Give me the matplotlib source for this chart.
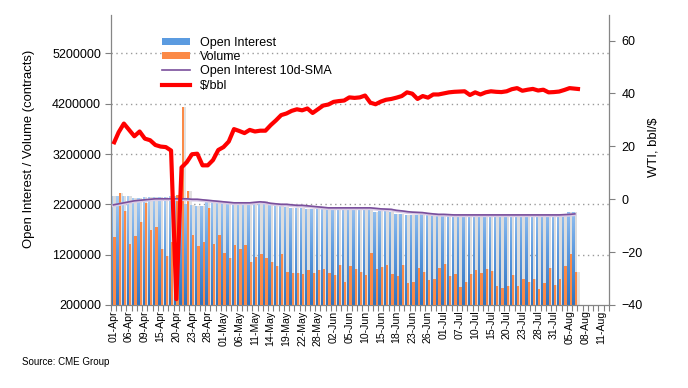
import matplotlib
matplotlib.use('Agg')
import matplotlib.pyplot as plt
import numpy as np
from matplotlib.path import Path
from matplotlib.patches import PathPatch, Patch
from matplotlib.lines import Line2D
from matplotlib.colors import LinearSegmentedColormap

plt.rcParams['font.family'] = ['Liberation Sans', 'DejaVu Sans']

# ---------------- data ----------------
tick_labels = ['01-Apr', '06-Apr', '09-Apr', '15-Apr', '20-Apr', '23-Apr', '28-Apr',
               '01-May', '06-May', '11-May', '14-May', '19-May', '22-May', '28-May',
               '02-Jun', '05-Jun', '10-Jun', '15-Jun', '18-Jun', '23-Jun', '26-Jun',
               '01-Jul', '07-Jul', '10-Jul', '15-Jul', '20-Jul', '23-Jul', '28-Jul',
               '31-Jul', '05-Aug', '08-Aug', '11-Aug']
n_slots = 95

open_interest = [2.36, 2.36, 2.36, 2.36, 2.32, 2.32, 2.34, 2.34, 2.34, 2.34,
                 2.34, 2.36, 2.36, 2.36, 2.20, 2.18, 2.17, 2.17, 2.24, 2.26,
                 2.26, 2.24, 2.22, 2.20, 2.20, 2.20, 2.20, 2.25, 2.23, 2.26,
                 2.20, 2.20, 2.18, 2.15, 2.13, 2.13, 2.13, 2.11, 2.11, 2.13,
                 2.11, 2.15, 2.11, 2.11, 2.11, 2.11, 2.11, 2.11, 2.11, 2.11,
                 2.05, 2.07, 2.07, 2.045, 2.00, 2.00, 1.99, 1.99, 1.99, 2.00,
                 2.00, 1.99, 1.99, 1.97, 1.97, 1.95, 1.95, 1.95, 1.95, 1.95,
                 1.95, 2.00, 2.00, 1.95, 1.95, 1.95, 1.95, 1.95, 1.95, 1.95,
                 1.95, 1.95, 1.99, 1.99, 1.99, 1.99, 2.00, 2.045, 2.045]
open_interest = [v * 1e6 for v in open_interest]

volume = [1.55, 2.42, 2.07, 1.42, 1.57, 1.85, 2.22, 1.69, 1.75, 1.31,
          1.17, 1.45, 2.38, 4.13, 2.47, 1.59, 1.37, 1.45, 2.13, 1.42,
          1.59, 1.23, 1.13, 1.39, 1.31, 1.39, 1.05, 1.15, 1.21, 1.13,
          1.05, 0.97, 1.21, 0.85, 0.83, 0.83, 0.815, 0.89, 0.83, 0.89,
          0.91, 0.83, 0.795, 0.99, 0.66, 0.97, 0.91, 0.85, 0.795, 1.23,
          0.91, 0.95, 0.99, 0.815, 0.775, 0.99, 0.64, 0.66, 0.93, 0.85,
          0.70, 0.72, 0.93, 1.01, 0.775, 0.815, 0.56, 0.66, 0.815, 0.89,
          0.83, 0.91, 0.875, 0.58, 0.54, 0.58, 0.795, 0.58, 0.72, 0.66,
          0.72, 0.52, 0.64, 0.93, 0.60, 0.72, 0.97, 1.21, 0.85]
volume = [v * 1e6 for v in volume]

oi_sma = [2.19, 2.21, 2.23, 2.25, 2.27, 2.28, 2.29, 2.30, 2.31, 2.31,
          2.31, 2.31, 2.31, 2.31, 2.31, 2.30, 2.30, 2.29, 2.28, 2.27,
          2.26, 2.25, 2.24, 2.23, 2.23, 2.23, 2.23, 2.24, 2.25, 2.24,
          2.22, 2.21, 2.20, 2.20, 2.19, 2.18, 2.18, 2.17, 2.16, 2.15,
          2.14, 2.13, 2.13, 2.13, 2.13, 2.13, 2.13, 2.13, 2.13, 2.13,
          2.12, 2.11, 2.105, 2.10, 2.08, 2.07, 2.055, 2.045, 2.04, 2.035,
          2.02, 2.01, 2.00, 2.00, 1.995, 1.99, 1.99, 1.99, 1.99, 1.99,
          1.99, 1.99, 1.99, 1.99, 1.99, 1.99, 1.99, 1.99, 1.99, 1.99,
          1.99, 1.99, 1.99, 1.99, 1.99, 1.99, 1.995, 2.00, 2.01]
oi_sma = [v * 1e6 for v in oi_sma]

wti = [20.8, 25.3, 28.6, 26.2, 23.8, 25.6, 22.9, 22.3, 20.5, 19.9,
       19.7, 18.4, -37.8, 12.0, 14.0, 17.0, 17.2, 12.8, 12.8, 14.8,
       18.6, 19.7, 21.8, 26.5, 25.8, 25.0, 26.2, 25.6, 25.9, 25.9,
       28.0, 29.8, 31.8, 32.4, 33.4, 34.0, 33.6, 34.3, 32.6, 34.0,
       35.4, 35.8, 36.8, 37.1, 37.3, 38.5, 38.3, 38.5, 39.2, 36.5,
       35.9, 36.9, 37.6, 37.9, 38.4, 39.0, 40.4, 39.9, 37.9, 39.0,
       38.4, 39.6, 39.6, 40.0, 40.4, 40.6, 40.7, 40.8, 39.4, 40.4,
       39.6, 40.4, 40.8, 40.6, 40.5, 40.8, 41.6, 42.0, 41.0, 41.4,
       41.7, 41.1, 41.4, 40.4, 40.5, 40.7, 41.3, 42.0, 41.8, 41.6]

# ---------------- figure ----------------
fig = plt.figure(figsize=(6.88, 3.88), dpi=100)
ax = fig.add_axes([0.161, 0.214, 0.724, 0.747])

x = np.arange(len(open_interest))
xv = np.arange(len(volume))
bw = 0.44

# shadows
ax.bar(x + 0.23, open_interest, 0.5, color='#dddddd', zorder=1, linewidth=0)
ax.bar(xv + 0.68, volume, 0.46, color='#e2e2e2', zorder=1, linewidth=0)

# blue bars with vertical gradient
blue = ax.bar(x - 0.22, open_interest, bw, color='none', linewidth=0, zorder=2)
paths = [r.get_path().transformed(r.get_patch_transform()) for r in blue]
compound = Path.make_compound_path(*paths)
clip = PathPatch(compound, transform=ax.transData, facecolor='none', edgecolor='none')
ax.add_patch(clip)
cmap = LinearSegmentedColormap.from_list('oi', ['#2f73bf', '#5d9be0', '#a7cdf6'])
grad = np.linspace(0, 1, 256).reshape(-1, 1)
im = ax.imshow(grad, extent=[-0.5, n_slots - 0.5, 200000, max(open_interest)],
               origin='lower', aspect='auto', cmap=cmap, zorder=2)
im.set_clip_path(clip)

# orange bars
ax.bar(xv + 0.22, volume, bw, color='#fb8a47', linewidth=0, zorder=3)

# SMA line
ax.plot(np.arange(len(oi_sma)), [v - 15000 for v in oi_sma], color='#d9cce6', lw=2.2, zorder=4)
ax.plot(np.arange(len(oi_sma)), oi_sma, color='#7a4f9c', lw=1.2, zorder=5)

ax.set_xlim(-0.5, n_slots - 0.5)
ax.set_ylim(200000, 5960000)
yt = [200000, 1200000, 2200000, 3200000, 4200000, 5200000]
ax.set_yticks(yt)
ax.set_yticklabels([str(v) for v in yt])
for v in yt[1:]:
    ax.axhline(v, color='#9a9a9a', lw=1.0, ls=(0, (1, 2.5)), zorder=0.5)

ax.set_xticks(np.arange(0, 3 * len(tick_labels), 3))
ax.set_xticklabels(tick_labels, rotation=90, fontsize=7.6)
ax.set_xticks(np.arange(-0.5, n_slots, 1), minor=True)
ax.tick_params(axis='x', which='major', length=0, pad=4)
ax.tick_params(axis='x', which='minor', length=4, color='#808080', width=0.8)
ax.tick_params(axis='y', length=4, color='#808080', width=0.8, labelsize=9, pad=3)

for s in ['top', 'right']:
    ax.spines[s].set_visible(False)
for s in ['left', 'bottom']:
    ax.spines[s].set_color('#868686')
    ax.spines[s].set_linewidth(0.9)

ax.set_ylabel('Open Interest / Volume (contracts)', fontsize=9.4)
ax.yaxis.set_label_coords(-0.152, 0.538)

# price axis
ax2 = ax.twinx()
ax2.plot(np.arange(len(wti)), wti, color='#ff0000', lw=3, solid_joinstyle='round',
         solid_capstyle='butt', zorder=6)
ax2.set_ylim(-40, 69.6)
ax2.set_yticks([-40, -20, 0, 20, 40, 60])
ax2.tick_params(axis='y', length=4, color='#808080', width=0.8, labelsize=9, pad=5)
for s in ['top', 'left', 'bottom']:
    ax2.spines[s].set_visible(False)
ax2.spines['right'].set_color('#868686')
ax2.spines['right'].set_linewidth(0.9)
ax2.set_ylabel('WTI, bbl/$', fontsize=9.4)
ax2.yaxis.set_label_coords(1.077, 0.545)

handles = [Patch(facecolor='#5b9be0', edgecolor='none'),
           Patch(facecolor='#fb8a47', edgecolor='none'),
           Line2D([0], [0], color='#7a4f9c', lw=1.2),
           Line2D([0], [0], color='#ff0000', lw=3)]
labels = ['Open Interest', 'Volume', 'Open Interest 10d-SMA', '$/bbl']
ax2.legend(handles, labels, loc='upper left', bbox_to_anchor=(0.103, 0.925),
           frameon=False, fontsize=9, handlelength=2.2, handleheight=0.55,
           handletextpad=0.85, labelspacing=0.18, borderpad=0, borderaxespad=0)

fig.text(0.032, 0.067, 'Source: CME Group', fontsize=7, va='center', ha='left')

fig.savefig('out.png', dpi=100)
